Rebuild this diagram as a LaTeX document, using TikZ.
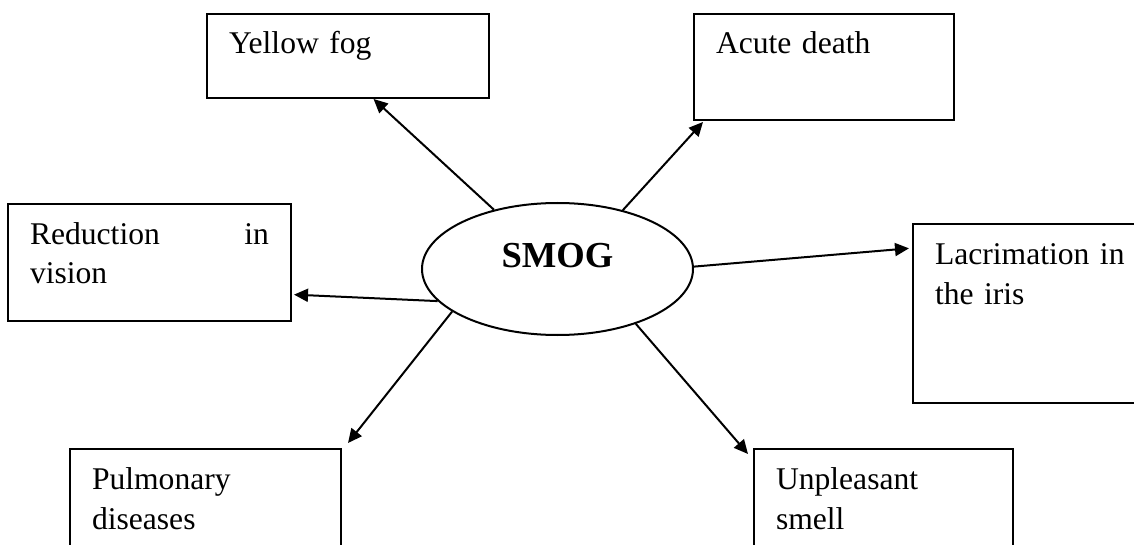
\documentclass[tikz,border=0pt]{standalone}
\usepackage{fontspec}
\setmainfont{Liberation Serif}
\usetikzlibrary{arrows.meta,calc,shapes.geometric}

\begin{document}
\begin{tikzpicture}[x=0.5pt,y=-0.5pt,line width=1pt,
  effect/.style={draw,anchor=north west,align=left,inner xsep=11pt,inner ysep=3pt,
    text height=17pt,font=\fontsize{15.8}{20}\selectfont},
  >={Triangle[length=7pt,width=6.5pt]}]
\clip (0,0) rectangle (1134,545);
\node[draw,ellipse,minimum width=135.5pt,minimum height=66pt,text height=13pt,text depth=15pt,
  font=\fontsize{18.3}{22}\selectfont\bfseries] (smog) at (557.5,269) {SMOG};
\node[effect,text width=119pt,text depth=19pt] (fog) at (206,13) {Yellow fog};
\node[effect,text width=108pt,text depth=30pt] (death) at (693,13) {Acute death};
\node[effect,text width=119.5pt,text depth=35.5pt] (vision) at (7,203) {Reduction\hfill in\\vision};
\node[effect,text width=130pt,text depth=66.5pt] (iris) at (912,223) {Lacrimation in\\the iris};
\node[effect,text width=113.5pt,text depth=42pt] (lungs) at (69,448) {Pulmonary\\diseases};
\node[effect,text width=107.5pt,text depth=42pt] (smell) at (753,448) {Unpleasant\\smell};
\path[->]
(smog.137) edge ($(fog.south west)!0.59!(fog.south east)$)
(smog.42) edge ($(death.south west)+(10,1)$)
(smog.1) edge ($(iris.north west)!0.14!(iris.south west)+(-3,0)$)
(smog.195) edge ($(vision.north east)!0.77!(vision.south east)+(2,0)$)
(smog.202) edge ($(lungs.north east)+(6,-5)$)
(smog.-35) edge ($(smell.north west)+(-5,6)$);
\end{tikzpicture}
\end{document}
